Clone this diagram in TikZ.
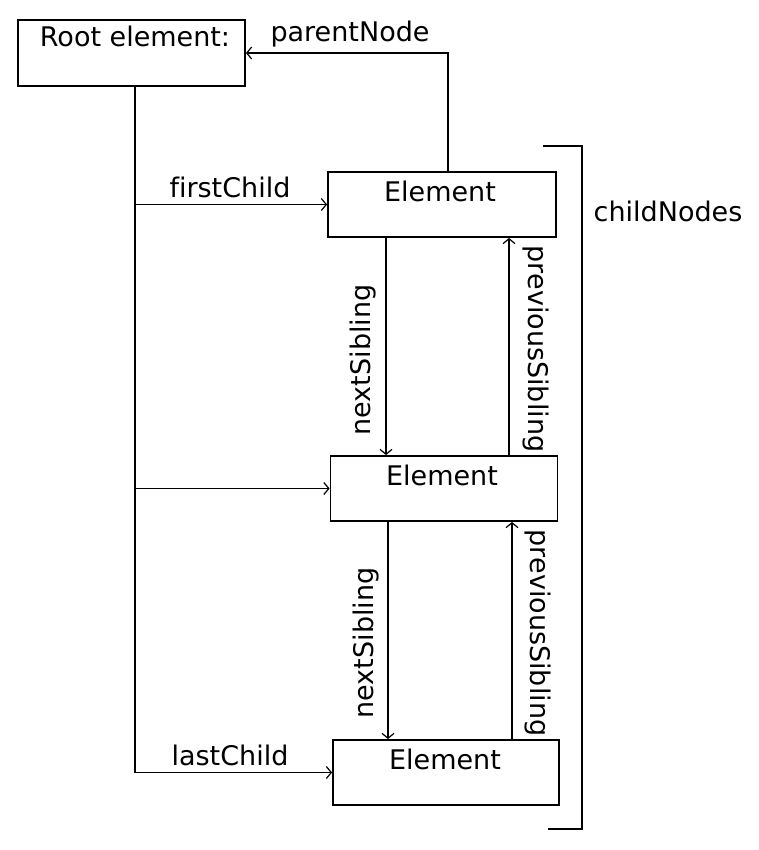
\documentclass[tikz,border=0pt]{standalone}
\usepackage{fontspec}
\setmainfont[Ligatures=NoCommon]{DejaVu Sans}
\usetikzlibrary{arrows.meta}
\begin{document}
\begin{tikzpicture}[x=1pt,y=-1pt,
  every node/.style={font=\fontsize{27}{31}\selectfont, inner sep=0pt},
  box/.style={draw, line width=1.8pt, rectangle},
  ln/.style={line width=1.7pt},
  arr/.style={ln, -{Straight Barb[length=5pt,width=12pt,line width=1.2pt]}},
  lbl/.style={anchor=base}]
\useasboundingbox (0,0) rectangle (758,850);
% boxes
\node[box, minimum width=227pt, minimum height=66pt] (root) at (131.5,53) {};
\node[box, minimum width=228pt, minimum height=65pt] (el1) at (442,204.5) {};
\node[box, minimum width=227pt, minimum height=65pt] (el2) at (444,488.5) {};
\node[box, minimum width=226pt, minimum height=65pt] (el3) at (446,772.5) {};
% box texts
\node[lbl] (troot) at (135,47) {Root element:};
\node[lbl] (tel1) at (440,202) {Element};
\node[lbl] (tel2) at (442,485) {Element};
\node[lbl] (tel3) at (445,769) {Element};
% columns
\coordinate (tx) at (135,0);
\coordinate (px) at (448,0);
\coordinate (n1) at (386,0);
\coordinate (p1) at (509,0);
\coordinate (n2) at (388,0);
\coordinate (p2) at (512,0);
% trunk
\draw[ln] (tx |- root.south) -- (tx |- el3.west);
\draw[arr] (tx |- el1.west) -- (el1.west);
\draw[arr] (tx |- el2.west) -- (el2.west);
\draw[arr] (tx |- el3.west) -- (el3.west);
% parentNode
\draw[arr] (px |- el1.north) |- (root.east);
% siblings
\draw[arr] (n1 |- el1.south) -- (n1 |- el2.north);
\draw[arr] (p1 |- el2.north) -- (p1 |- el1.south);
\draw[arr] (n2 |- el2.south) -- (n2 |- el3.north);
\draw[arr] (p2 |- el3.north) -- (p2 |- el2.south);
% labels
\node[lbl] (lparent) at (350,42) {parentNode};
\node[lbl] (lfirst) at (230,197) {firstChild};
\node[lbl] (llast) at (230,765) {lastChild};
\node[lbl] (lchild) at (668,222) {childNodes};
\node[lbl, rotate=90] (lnext1) at (370,360) {nextSibling};
\node[lbl, rotate=90] (lnext2) at (373,643) {nextSibling};
\node[lbl, rotate=-90] (lprev1) at (528,349) {previousSibling};
\node[lbl, rotate=-90] (lprev2) at (530,633) {previousSibling};
% bracket
\coordinate (b1) at (543,146);
\coordinate (b2) at (582,146);
\coordinate (b3) at (582,829);
\coordinate (b4) at (548,829);
\draw[ln] (b1) -- (b2) -- (b3) -- (b4);
\end{tikzpicture}
\end{document}
